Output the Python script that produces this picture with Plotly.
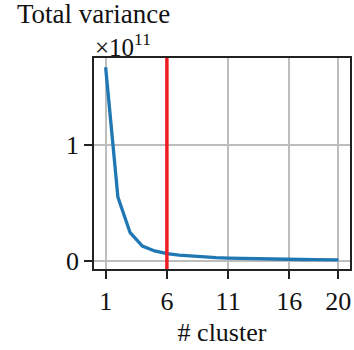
import plotly.graph_objects as go

clusters = list(range(1, 21))
variance = [1.67e11, 0.55e11, 0.243e11, 0.128e11, 0.086e11, 0.062e11, 0.050e11,
            0.041e11, 0.034e11, 0.028e11, 0.024e11, 0.021e11, 0.018e11, 0.016e11,
            0.014e11, 0.013e11, 0.012e11, 0.011e11, 0.010e11, 0.009e11]
chosen_k = 6
x_ticks = [1, 6, 11, 16, 20]
y_ticks = [0, 1e11]
y_tick_text = ["0", "1"]

FONT = "Liberation Serif, Times New Roman, serif"
FS = 26

fig = go.Figure()
fig.add_trace(go.Scatter(x=clusters, y=variance, mode="lines",
                         line=dict(color="#1f77b4", width=3.3), showlegend=False))
fig.add_vline(x=chosen_k, line=dict(color="#ee1d23", width=3.5))

axis_common = dict(showline=True, linecolor="#222222", linewidth=1.6, mirror=True,
                   ticks="outside", ticklen=8, tickwidth=1.6, tickcolor="#222222",
                   showgrid=True, gridcolor="#bdbdbd", gridwidth=2, zeroline=False,
                   tickfont=dict(family=FONT, size=FS, color="#111111"))

fig.update_xaxes(range=[0.05, 20.95], tickvals=x_ticks, **axis_common,
                 title=dict(text="# cluster", font=dict(family=FONT, size=FS, color="#111111"),
                            standoff=8))
fig.update_yaxes(range=[-0.07e11, 1.75e11], tickvals=y_ticks, ticktext=y_tick_text, **axis_common)

fig.add_annotation(text="Total variance", xref="paper", yref="paper",
                   x=-0.31, y=1.0 + 27 / 211, xanchor="left", yanchor="bottom",
                   showarrow=False, font=dict(family=FONT, size=FS + 1, color="#111111"))
fig.add_annotation(text="×10<sup>11</sup>", xref="paper", yref="paper",
                   x=-0.005, y=1.0 - 5 / 211, xanchor="left", yanchor="bottom",
                   showarrow=False, font=dict(family=FONT, size=FS - 1, color="#111111"))

fig.update_layout(width=354, height=350, margin=dict(l=94, r=2, t=58, b=81),
                  plot_bgcolor="white", paper_bgcolor="white",
                  font=dict(family=FONT, size=FS, color="#111111"))

fig.write_html("out.html")
